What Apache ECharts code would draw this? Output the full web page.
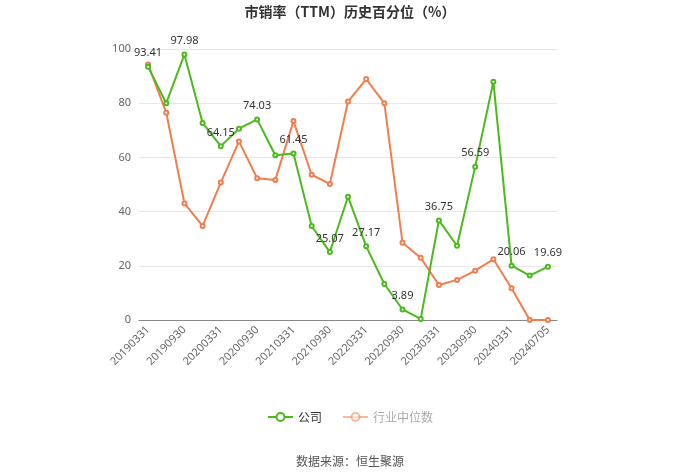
<!DOCTYPE html>
<html><head><meta charset="utf-8">
<script src="https://cdn.jsdelivr.net/npm/echarts@6/dist/echarts.min.js"></script>
<style>html,body{margin:0;padding:0;background:#fff}#c{width:700px;height:474px}</style>
</head><body><div id="c"></div>
<script>
const categories = ['20190331','20190630','20190930','20191231','20200331','20200630','20200930','20201231','20210331','20210630','20210930','20211231','20220331','20220630','20220930','20221231','20230331','20230630','20230930','20231231','20240331','20240630','20240705'];
const companyValues = [93.41,80.0,97.98,72.7,64.15,70.6,74.03,60.8,61.45,34.7,25.07,45.5,27.17,13.3,3.89,0.4,36.75,27.4,56.59,87.9,20.06,16.4,19.69];
const industryValues = [94.3,76.5,43.0,34.7,50.7,65.9,52.3,51.7,73.4,53.6,50.2,80.6,88.9,80.0,28.5,23.0,12.9,14.8,18.2,22.4,11.7,0,0];
const yTicks = [0,20,40,60,80,100];
const titleText = '市销率（TTM）历史百分位（%）';
const sourceText = '数据来源：恒生聚源';

const chart = echarts.init(document.getElementById('c'), null, {renderer:'canvas'});
chart.setOption({
  animation:false,
  title:[{text:titleText,left:'center',top:0,textStyle:{fontSize:14,fontWeight:'bold',color:'#333',fontFamily:'Noto Sans CJK SC'}},
         {text:sourceText,left:'center',top:450,textStyle:{fontSize:12,fontWeight:'normal',color:'#555',fontFamily:'Noto Sans CJK SC'}}],
  legend:{bottom:46,left:'center',itemWidth:25,itemHeight:10,itemGap:20,textStyle:{fontSize:12,color:'#333',fontFamily:'Noto Sans CJK SC'},
    data:[{name:'公司'},{name:'行业中位数',textStyle:{color:'#aaa'},itemStyle:{opacity:0.55},lineStyle:{opacity:0.55}}]},
  grid:{left:139,right:143,top:49,bottom:154},
  xAxis:{type:'category',data:categories,boundaryGap:true,
    axisLine:{lineStyle:{color:'#888'}},
    axisTick:{alignWithLabel:true,interval:1,lineStyle:{color:'#888'}},
    axisLabel:{interval:1,rotate:45,fontSize:11,color:'#666',margin:8,fontFamily:'Noto Sans'}},
  yAxis:{type:'value',min:yTicks[0],max:yTicks[yTicks.length-1],interval:20,
    axisLine:{show:false},axisTick:{show:false},
    axisLabel:{fontSize:11,color:'#666',margin:8,fontFamily:'Noto Sans'},
    splitLine:{lineStyle:{color:'#e8e8e8'}}},
  series:[
    {name:'公司',type:'line',data:companyValues,symbol:'emptyCircle',symbolSize:4,
      itemStyle:{color:'#4cb91c'},lineStyle:{width:2,color:'#4cb91c'},
      label:{show:true,position:'top',fontSize:11,color:'#333',fontFamily:'Noto Sans',
        formatter:p=>p.dataIndex%2===0?p.value.toFixed(2):''},z:3},
    {name:'行业中位数',type:'line',data:industryValues,symbol:'emptyCircle',symbolSize:4,
      itemStyle:{color:'#f27d4e'},lineStyle:{width:2,color:'#f27d4e'},z:2}
  ]
});
</script></body></html>
